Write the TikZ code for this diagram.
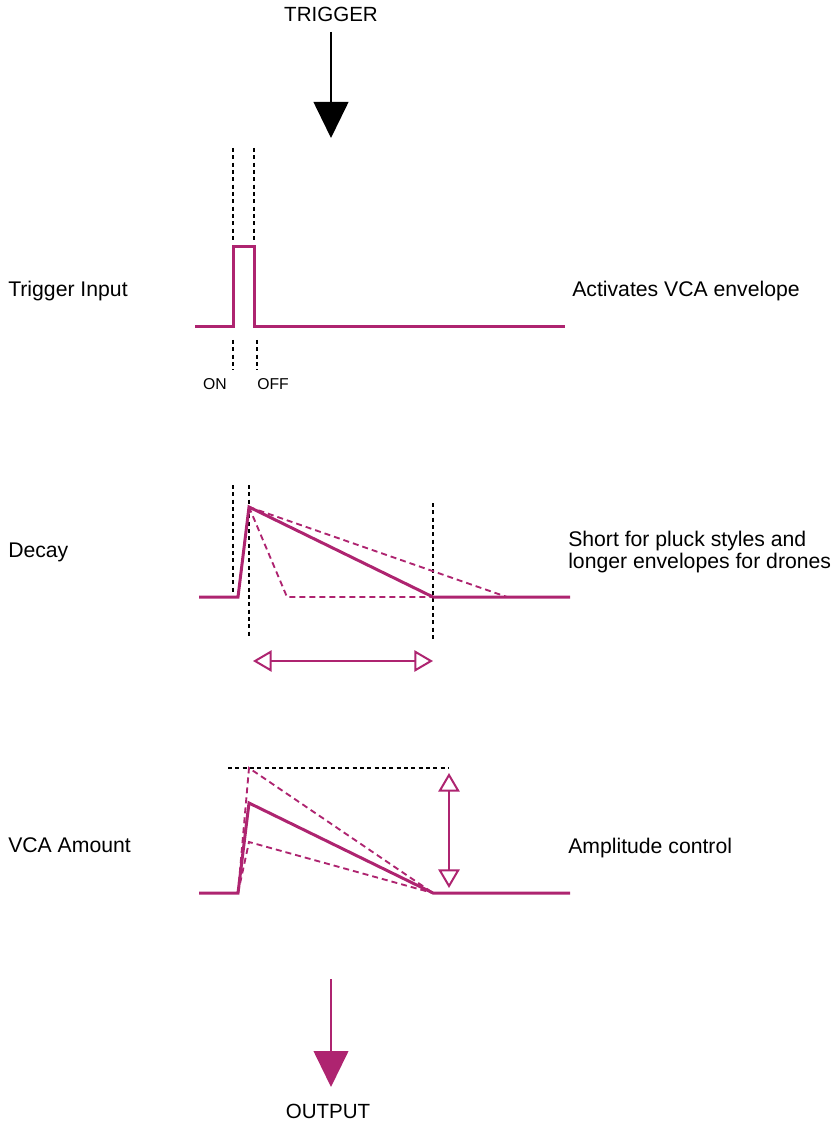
\documentclass[tikz,border=0pt]{standalone}
\usepackage{fontspec}
\setmainfont{Liberation Sans}
\usetikzlibrary{arrows.meta}
\definecolor{mag}{HTML}{AE2470}
\begin{document}
\begin{tikzpicture}[x=0.75pt,y=-0.75pt,
 lbl/.style={font=\fontsize{15.9}{16.5}\selectfont, inner sep=0pt, anchor=base west, align=left},
 ttl/.style={font=\fontsize{15.4}{16.5}\selectfont, inner sep=0pt, anchor=base},
 small/.style={font=\fontsize{11.8}{14}\selectfont, inner sep=0pt, anchor=base},
 wave/.style={mag, line width=2.25pt, line join=miter},
 wavedash/.style={mag, line width=1.4pt, dash pattern=on 4.5pt off 3pt},
 guide/.style={black, line width=1pt, dash pattern=on 3pt off 2.5pt},
 dbl/.style={mag, line width=1.5pt, {Triangle[open,length=14pt,width=16pt]}-{Triangle[open,length=14pt,width=16pt]}},
 bigarrow/.style={line width=1.5pt, -{Triangle[length=27pt,width=26pt]}}]
\useasboundingbox (0,0) rectangle (833,1126);

% top trigger
\node[ttl] (trig) at (331,22) {TRIGGER};
\coordinate (tA) at (331,32);
\coordinate (tB) at (331,138);
\draw[bigarrow, black] (tA) -- (tB);

% trigger input
\node[lbl] (ti) at (8,297) {Trigger Input};
\node[lbl] (tiR) at (572,297) {Activates VCA envelope};
\draw[guide] (233,148) -- (233,240);
\draw[guide] (254,148) -- (254,240);
\draw[guide] (233,340) -- (233,370);
\draw[guide] (257,340) -- (257,370);
\draw[wave] (195,327) -- (233,327) -- (233,247) -- (254,247) -- (254,327) -- (565,327);
\node[small] (on) at (215,389) {ON};
\node[small] (off) at (273,389) {OFF};

% decay
\node[lbl] (dc) at (8,557) {Decay};
\node[lbl] (dcR1) at (568,546) {Short for pluck styles and};
\node[lbl] (dcR2) at (568,568) {longer envelopes for drones};
\draw[guide] (233,485) -- (233,593);
\draw[guide] (249,485) -- (249,638);
\draw[guide] (433,503) -- (433,640);
\draw[wavedash] (249,507) -- (287,597) -- (433,597);
\draw[wavedash] (249,507) -- (507,597);
\draw[wave] (199,597) -- (238,597) -- (249,507) -- (433,597) -- (570,597);
\coordinate (dL) at (253,661);
\coordinate (dR) at (433,661);
\draw[dbl] (dL) -- (dR);

% VCA amount
\node[lbl] (va) at (8,852) {VCA Amount};
\node[lbl] (vaR) at (568,853) {Amplitude control};
\draw[guide] (228,768) -- (449,768);
\draw[wavedash] (238,893) -- (249,768) -- (433,893);
\draw[wavedash] (238,893) -- (249,842) -- (433,893);
\draw[wave] (199,893) -- (238,893) -- (249,803) -- (433,893) -- (570,893);
\coordinate (vT) at (449,773);
\coordinate (vB) at (449,888);
\draw[dbl] (vT) -- (vB);

% output
\coordinate (oA) at (331,979);
\coordinate (oB) at (331,1087);
\draw[bigarrow, mag] (oA) -- (oB);
\node[ttl] (out) at (328,1118) {OUTPUT};
\end{tikzpicture}
\end{document}
